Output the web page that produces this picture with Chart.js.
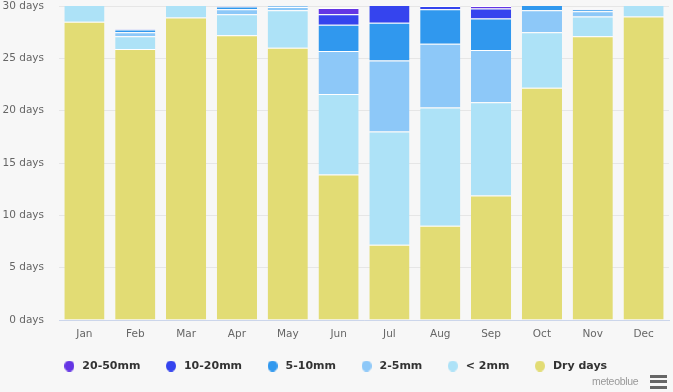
<!DOCTYPE html>
<html>
<head>
<meta charset="utf-8">
<script src="https://cdn.jsdelivr.net/npm/chart.js@4.4.1/dist/chart.umd.min.js"></script>
<style>
  html, body { margin: 0; padding: 0; background: #f7f7f7; }
  #wrap { position: relative; width: 673px; height: 392px; background: #f7f7f7; overflow: hidden; }
  #c { position: absolute; left: 0; top: 0; }
  #credit { position: absolute; left: 592px; top: 374px; font: 10.5px "Liberation Sans", Arial, sans-serif; color: #999; letter-spacing: -0.3px; line-height: 14px; }
  #menu { position: absolute; left: 650px; top: 375px; width: 17px; }
  #menu div { height: 2.7px; background: #666; margin-bottom: 2.8px; }
</style>
</head>
<body>
<div id="wrap">
  <canvas id="c" width="673" height="392"></canvas>
  <span id="credit">meteoblue</span>
  <div id="menu"><div></div><div></div><div></div></div>
</div>
<script>
// Categories
const months = ['Jan','Feb','Mar','Apr','May','Jun','Jul','Aug','Sep','Oct','Nov','Dec'];
// Series values (days per month)
const dryDays   = [28.5, 25.9, 28.9, 27.2, 26.0, 13.9,  7.2,  9.0, 11.9, 22.2, 27.1, 29.0];
const lt2mm     = [ 2.5,  1.2,  2.1,  2.0,  3.6,  7.7, 10.8, 11.3,  8.9,  5.3,  1.9,  2.0];
const mm2to5    = [ 0.0,  0.4,  0.0,  0.5,  0.3,  4.1,  6.8,  6.1,  5.0,  2.1,  0.5,  0.0];
const mm5to10   = [ 0.0,  0.25, 0.0,  0.25, 0.1,  2.5,  3.6,  3.3,  3.0,  0.5,  0.2,  0.0];
const mm10to20  = [ 0.0,  0.05, 0.0,  0.05, 0.0,  1.0,  2.0,  0.3,  0.95, 0.1,  0.05, 0.0];
const mm20to50  = [ 0.0,  0.0,  0.0,  0.0,  0.0,  0.6,  0.5,  0.1,  0.25, 0.0,  0.0,  0.0];
// Tick labels
const yTicks = [0, 5, 10, 15, 20, 25, 30];
const yUnit = ' days';
const seriesNames = ['Dry days', '< 2mm', '2-5mm', '5-10mm', '10-20mm', '20-50mm'];

const colors = ['#e2dc74', '#ade2f7', '#8dc8f8', '#3098ee', '#3544ee', '#6435e4'];
const seriesData = [dryDays, lt2mm, mm2to5, mm5to10, mm10to20, mm20to50];

// legend marker: small filled ellipse drawn onto a tiny canvas
function marker(color) {
  const c = document.createElement('canvas');
  c.width = 10; c.height = 11;
  const g = c.getContext('2d');
  g.fillStyle = color;
  g.beginPath();
  g.ellipse(5, 5.5, 5, 5.5, 0, 0, Math.PI * 2);
  g.fill();
  return c;
}

const datasets = seriesData.map((d, i) => ({
  label: seriesNames[i],
  data: d,
  backgroundColor: colors[i],
  borderColor: '#ffffff',
  borderWidth: {top: 1, left: 0, right: 0, bottom: 0},
  borderSkipped: 'start',
  barPercentage: 0.79,
  categoryPercentage: 1.0,
  pointStyle: marker(colors[i])
}));

const LEGEND_CENTER_Y = 367;
const legendShift = {
  id: 'legendShift',
  afterLayout(chart) {
    const lg = chart.legend;
    if (!lg) return;
    const itemH = lg._itemHeight || 13;
    const pad = lg.options.labels.padding;
    const curCenter = lg.top + pad + itemH / 2;
    const dy = LEGEND_CENTER_Y - curCenter;
    lg.top += dy; lg.bottom += dy;
  }
};

new Chart(document.getElementById('c'), {
  type: 'bar',
  data: { labels: months, datasets },
  plugins: [legendShift],
  options: {
    responsive: false,
    animation: false,
    devicePixelRatio: 1,
    layout: { padding: { left: 0, right: 4, top: 6, bottom: 0 } },
    plugins: {
      tooltip: { enabled: false },
      legend: {
        position: 'bottom',
        align: 'center',
        reverse: true,
        labels: {
          usePointStyle: true,
          boxWidth: 15,
          boxHeight: 8,
          pointStyleWidth: 15,
          padding: 23,
          color: '#333',
          font: { family: '"DejaVu Sans", sans-serif', size: 11, weight: 'bold' }
        }
      }
    },
    scales: {
      x: {
        stacked: true,
        grid: { display: false, drawTicks: false },
        border: { display: true, color: '#ccd6eb' },
        ticks: { color: '#666', padding: 8, font: { family: '"DejaVu Sans", sans-serif', size: 10.5 } },
        afterFit(axis) { axis.paddingLeft = 0; axis.paddingRight = 0; axis.height = 28; }
      },
      y: {
        stacked: true,
        min: 0,
        max: 30,
        afterBuildTicks(axis) { axis.ticks = yTicks.map(v => ({ value: v })); },
        grid: { color: '#e6e6e6', drawTicks: false },
        border: { display: false },
        ticks: {
          color: '#666',
          padding: 15,
          font: { family: '"DejaVu Sans", sans-serif', size: 10.5 },
          callback: (v) => v + yUnit
        },
        afterFit(axis) { axis.width = 59; axis.paddingTop = 0; axis.paddingBottom = 0; }
      }
    }
  }
});
</script>
</body>
</html>
